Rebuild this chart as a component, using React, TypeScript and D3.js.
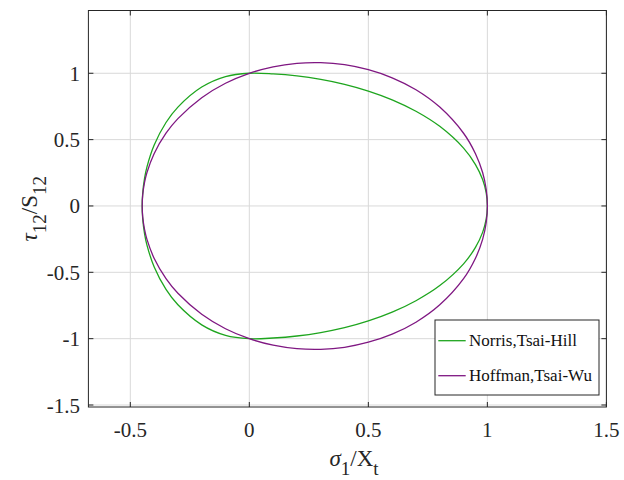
import React from "react";
import * as d3 from "d3";

// Upper-half points (sigma1/Xt, tau12/S12); lower half is the mirror image
const hillX = [1.0, 0.995, 0.98, 0.95, 0.9, 0.8, 0.7, 0.6, 0.5, 0.4, 0.3, 0.2, 0.1, 0.0, -0.1, -0.2, -0.3, -0.35, -0.4, -0.43, -0.44, -0.448, -0.45];
const hillY = [0.0, 0.1, 0.199, 0.312, 0.436, 0.6, 0.714, 0.8, 0.866, 0.917, 0.954, 0.98, 0.995, 1.0, 0.975, 0.896, 0.745, 0.629, 0.458, 0.295, 0.21, 0.094, 0.0];

const wuX = [1.0, 0.995, 0.98, 0.95, 0.9, 0.8, 0.7, 0.6, 0.5, 0.4, 0.3, 0.2, 0.1, 0.0, -0.1, -0.2, -0.3, -0.35, -0.4, -0.43, -0.44, -0.448, -0.45];
const wuY = [0.0, 0.126, 0.252, 0.394, 0.548, 0.745, 0.876, 0.966, 1.027, 1.065, 1.08, 1.075, 1.049, 1.0, 0.925, 0.816, 0.658, 0.548, 0.394, 0.252, 0.179, 0.08, 0.0];

const xTicks = [-0.5, 0, 0.5, 1, 1.5];
const yTicks = [-1.5, -1, -0.5, 0, 0.5, 1];
const seriesNames = ["Norris,Tsai-Hill", "Hoffman,Tsai-Wu"];
const seriesColors = ["#1ea51e", "#7f1782"];

const W = 624;
const H = 480;
const L = 88.4, R = 606.4, T = 10.5, B = 407;

function loop(xs: number[], ys: number[]): [number, number][] {
  const top = xs.map((x, i) => [x, ys[i]] as [number, number]);
  const bottom: [number, number][] = [];
  for (let i = xs.length - 2; i >= 1; i--) bottom.push([xs[i], -ys[i]]);
  return [...top, ...bottom];
}

const FONT = '"Liberation Serif", "Times New Roman", Times, serif';

export default function App() {
  const x = d3.scaleLinear().domain([-0.676, 1.5]).range([L, R]);
  const y = d3.scaleLinear().domain([-1.515, 1.473]).range([B, T]);
  const line = d3
    .line<[number, number]>()
    .x((d) => x(d[0]))
    .y((d) => y(d[1]))
    .curve(d3.curveCatmullRomClosed.alpha(0.5));

  const curves = [loop(hillX, hillY), loop(wuX, wuY)];
  const axisColor = "#262626";
  const tl = 5;
  const ts = (size: number, extra: React.CSSProperties = {}): React.CSSProperties => ({
    fontFamily: FONT,
    fontSize: size,
    ...extra,
  });

  return (
    <svg
      width={W}
      height={H}
      style={{ position: "absolute", left: 0, top: 0, background: "#fff" }}
    >
      <rect x={0} y={0} width={W} height={H} fill="#fff" />
      {/* grid */}
      {xTicks.map((t) => (
        <line key={"gx" + t} x1={x(t)} x2={x(t)} y1={T} y2={B} stroke="#d9d9d9" strokeWidth={1} />
      ))}
      {yTicks.map((t) => (
        <line key={"gy" + t} x1={L} x2={R} y1={y(t)} y2={y(t)} stroke="#d9d9d9" strokeWidth={1} />
      ))}
      {/* curves */}
      {curves.map((c, i) => (
        <path key={"c" + i} d={line(c) || ""} fill="none" stroke={seriesColors[i]} strokeWidth={1.3} />
      ))}
      {/* box */}
      <rect x={L} y={T} width={R - L} height={B - T} fill="none" stroke={axisColor} strokeWidth={1} />
      {/* ticks */}
      {xTicks.map((t) => (
        <g key={"tx" + t}>
          <line x1={x(t)} x2={x(t)} y1={B} y2={B - tl} stroke={axisColor} />
          <line x1={x(t)} x2={x(t)} y1={T} y2={T + tl} stroke={axisColor} />
          <text x={x(t)} y={436.5} textAnchor="middle" style={ts(21)} fill="#262626">
            {String(t)}
          </text>
        </g>
      ))}
      {yTicks.map((t) => (
        <g key={"ty" + t}>
          <line x1={L} x2={L + tl} y1={y(t)} y2={y(t)} stroke={axisColor} />
          <line x1={R} x2={R - tl} y1={y(t)} y2={y(t)} stroke={axisColor} />
          <text x={80} y={y(t) + 7.5} textAnchor="end" style={ts(21)} fill="#262626">
            {String(t)}
          </text>
        </g>
      ))}
      {/* x label */}
      <text x={354} y={466} textAnchor="middle" style={ts(23)} fill="#262626">
        <tspan style={{ fontStyle: "italic" }}>σ</tspan>
        <tspan dy={9} style={{ fontSize: 19 }}>1</tspan>
        <tspan dy={-9}>/X</tspan>
        <tspan dy={9} style={{ fontSize: 19 }}>t</tspan>
      </text>
      {/* y label */}
      <text
        transform={`translate(37,${(T + B) / 2}) rotate(-90)`}
        textAnchor="middle"
        style={ts(23)}
        fill="#262626"
      >
        <tspan style={{ fontStyle: "italic" }}>τ</tspan>
        <tspan dy={9} style={{ fontSize: 19 }}>12</tspan>
        <tspan dy={-9}>/S</tspan>
        <tspan dy={9} style={{ fontSize: 19 }}>12</tspan>
      </text>
      {/* legend */}
      <rect x={435} y={320} width={164} height={75} fill="#fff" stroke={axisColor} strokeWidth={1} />
      {seriesNames.map((n, i) => {
        const ly = 340.7 + i * 35;
        return (
          <g key={"lg" + i}>
            <line x1={438.3} x2={465.7} y1={ly} y2={ly} stroke={seriesColors[i]} strokeWidth={1.3} />
            <text x={469} y={ly + 5.5} style={ts(17)} fill="#111">
              {n}
            </text>
          </g>
        );
      })}
    </svg>
  );
}
